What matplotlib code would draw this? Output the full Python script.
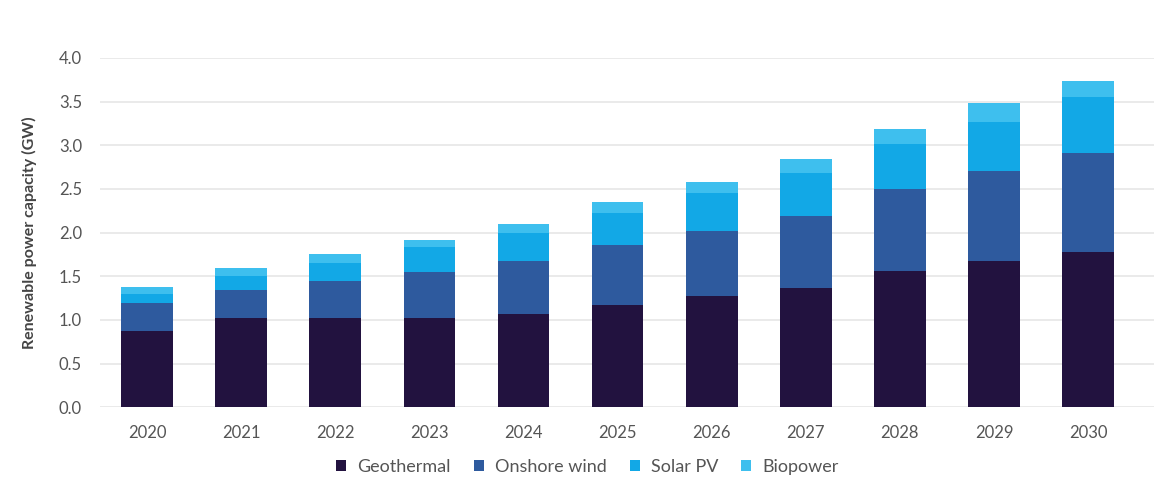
import matplotlib
matplotlib.use("Agg")
import matplotlib.pyplot as plt
import numpy as np

years = ["2020", "2021", "2022", "2023", "2024", "2025", "2026", "2027", "2028", "2029", "2030"]
geothermal = [0.87, 1.02, 1.02, 1.02, 1.07, 1.17, 1.27, 1.37, 1.56, 1.68, 1.78]
onshore_wind = [0.32, 0.32, 0.42, 0.53, 0.60, 0.69, 0.75, 0.82, 0.94, 1.02, 1.13]
solar_pv = [0.11, 0.16, 0.21, 0.28, 0.33, 0.36, 0.43, 0.49, 0.52, 0.57, 0.64]
biopower = [0.08, 0.09, 0.10, 0.09, 0.10, 0.13, 0.13, 0.16, 0.17, 0.21, 0.19]
series_names = ["Geothermal", "Onshore wind", "Solar PV", "Biopower"]
y_ticks = [0.0, 0.5, 1.0, 1.5, 2.0, 2.5, 3.0, 3.5, 4.0]

colors = ["#22123F", "#2E5A9E", "#12A8E6", "#3EBFEE"]

plt.rcParams['font.family'] = ['Lato', 'DejaVu Sans']

fig = plt.figure(figsize=(11.54, 4.83), dpi=100)
ax = fig.add_axes([0.0867, 0.157, 0.9133, 0.723])

x = np.arange(len(years))
bottom = np.zeros(len(years))
handles = []
for name, vals, c in zip(series_names, [geothermal, onshore_wind, solar_pv, biopower], colors):
    b = ax.bar(x, vals, width=0.55, bottom=bottom, color=c, label=name, zorder=3)
    handles.append(b)
    bottom += np.array(vals)

ax.set_xlim(-0.5, 10.7)
ax.set_ylim(0, 4.0)
ax.set_yticks(y_ticks)
ax.set_yticklabels([f"{v:.1f}" for v in y_ticks])
ax.set_xticks(x)
ax.set_xticklabels(years)
ax.tick_params(axis='both', length=0, labelsize=12, colors="#555555")
ax.tick_params(axis='x', pad=13)
ax.tick_params(axis='y', pad=13)
ax.grid(axis='y', color="#e6e6e6", linewidth=1.2, zorder=0)
for s in ax.spines.values():
    s.set_visible(False)

ax.set_ylabel("Renewable power capacity (GW)", fontsize=11.5, fontweight='bold', color="#444444", labelpad=16)

fig.legend(handles=handles, labels=series_names, loc='center', bbox_to_anchor=(0.509, 0.033),
           ncol=4, frameon=False, fontsize=13, handlelength=0.55, handleheight=0.55,
           handletextpad=0.6, columnspacing=1.3, labelcolor="#555555")

fig.savefig("out.png", dpi=100)
